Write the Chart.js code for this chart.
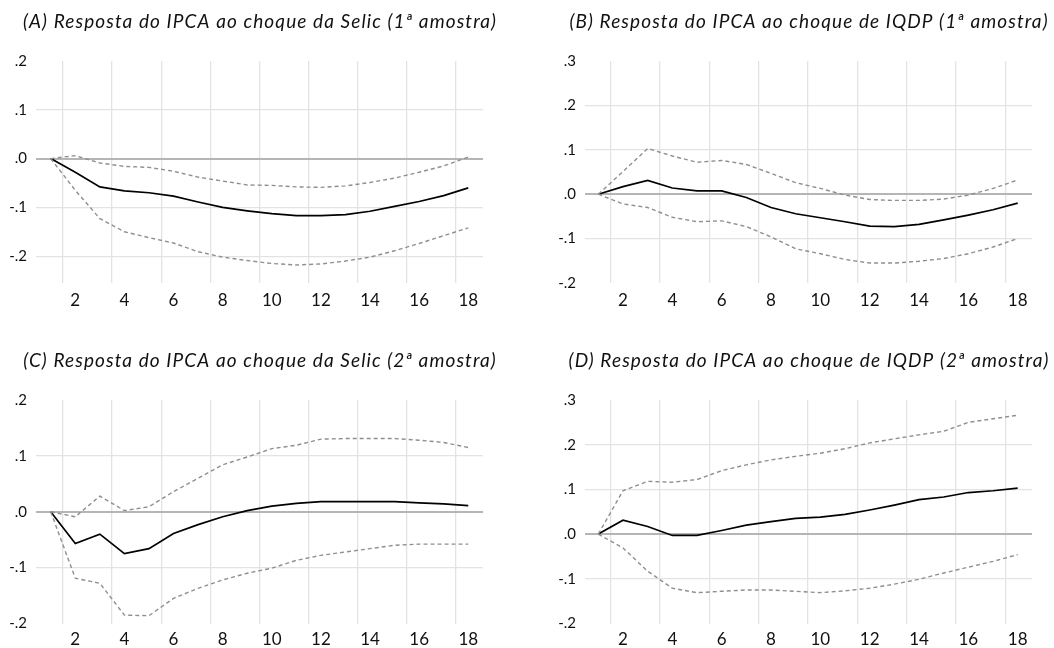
<!DOCTYPE html>
<html><head><meta charset="utf-8">
<script src="https://cdn.jsdelivr.net/npm/chart.js@4/dist/chart.umd.min.js"></script>
<style>
html,body{margin:0;padding:0;background:#fff;}
#wrap{position:relative;width:1054px;height:648px;overflow:hidden;}
.p{position:absolute;width:527px;height:324px;}
canvas{display:block;}
</style></head><body>
<div id="wrap">
<div class="p" style="left:0;top:0"><canvas id="cA" width="527" height="324"></canvas></div>
<div class="p" style="left:527px;top:0"><canvas id="cB" width="527" height="324"></canvas></div>
<div class="p" style="left:0;top:324px"><canvas id="cC" width="527" height="324"></canvas></div>
<div class="p" style="left:527px;top:324px"><canvas id="cD" width="527" height="324"></canvas></div>
</div>
<script>
const periods = [1,2,3,4,5,6,7,8,9,10,11,12,13,14,15,16,17,18];

const titleA = "(A) Resposta do IPCA ao choque da Selic (1ª amostra)";
const titleB = "(B) Resposta do IPCA ao choque de IQDP (1ª amostra)";
const titleC = "(C) Resposta do IPCA ao choque da Selic (2ª amostra)";
const titleD = "(D) Resposta do IPCA ao choque de IQDP (2ª amostra)";

const yTicksA = [-0.2,-0.1,0,0.1,0.2];
const yTicksB = [-0.2,-0.1,0,0.1,0.2,0.3];
const yTicksC = [-0.2,-0.1,0,0.1,0.2];
const yTicksD = [-0.2,-0.1,0,0.1,0.2,0.3];

const aResp  = [0,-0.028,-0.058,-0.066,-0.070,-0.077,-0.089,-0.100,-0.107,-0.113,-0.117,-0.117,-0.115,-0.108,-0.098,-0.088,-0.076,-0.060];
const aUpper = [0,0.006,-0.009,-0.016,-0.018,-0.026,-0.038,-0.046,-0.054,-0.055,-0.058,-0.059,-0.056,-0.049,-0.040,-0.028,-0.015,0.003];
const aLower = [0,-0.065,-0.123,-0.150,-0.162,-0.173,-0.191,-0.202,-0.209,-0.215,-0.218,-0.216,-0.210,-0.202,-0.189,-0.174,-0.158,-0.142];

const bResp  = [0,0.017,0.031,0.014,0.0075,0.0075,-0.0075,-0.030,-0.044,-0.053,-0.062,-0.072,-0.073,-0.068,-0.058,-0.047,-0.035,-0.020];
const bUpper = [0,0.051,0.103,0.086,0.072,0.076,0.067,0.047,0.026,0.013,-0.002,-0.012,-0.014,-0.014,-0.011,-0.002,0.013,0.032];
const bLower = [0,-0.022,-0.030,-0.052,-0.062,-0.060,-0.073,-0.096,-0.123,-0.134,-0.147,-0.155,-0.155,-0.151,-0.145,-0.134,-0.119,-0.100];

const cResp  = [0,-0.057,-0.040,-0.075,-0.066,-0.039,-0.023,-0.009,0.002,0.010,0.015,0.018,0.018,0.018,0.018,0.016,0.014,0.011];
const cUpper = [0,-0.009,0.028,0.002,0.009,0.036,0.060,0.084,0.098,0.113,0.119,0.130,0.131,0.131,0.131,0.128,0.124,0.115];
const cLower = [0,-0.119,-0.128,-0.185,-0.186,-0.155,-0.137,-0.122,-0.110,-0.101,-0.087,-0.078,-0.072,-0.066,-0.060,-0.058,-0.058,-0.058];

const dResp  = [0,0.031,0.017,-0.003,-0.003,0.008,0.020,0.028,0.035,0.038,0.044,0.054,0.065,0.077,0.083,0.093,0.097,0.103];
const dUpper = [0,0.097,0.118,0.116,0.122,0.142,0.155,0.166,0.174,0.181,0.191,0.204,0.213,0.222,0.230,0.250,0.258,0.266];
const dLower = [0,-0.031,-0.083,-0.121,-0.131,-0.128,-0.125,-0.125,-0.128,-0.131,-0.127,-0.121,-0.112,-0.101,-0.087,-0.074,-0.061,-0.046];

const FONT = "Lato, 'Open Sans', sans-serif";

const panelTitle = {
  id:'panelTitle',
  afterDraw(chart, args, opts){
    const ctx = chart.ctx, a = chart.chartArea;
    ctx.save();
    ctx.font = 'italic 19px ' + FONT;
    ctx.fillStyle = '#111';
    ctx.textAlign = 'center';
    ctx.textBaseline = 'middle';
    if ('letterSpacing' in ctx) ctx.letterSpacing = opts.spacing + 'px';
    ctx.fillText(opts.text, (a.left + a.right) / 2 + opts.spacing / 2, opts.y);
    ctx.restore();
  }
};

function pts(arr){ return periods.map((p,i)=>({x:p, y:arr[i]})); }

function makeChart(id, title, resp, upper, lower, yTicks, L){
  const yMin = L.yMin, yMax = L.yMax;
  const dashed = {borderColor:'#8f8f8f', borderWidth:1.4, borderDash:[4,3], pointRadius:0, fill:false, tension:0};
  return new Chart(document.getElementById(id), {
    type:'line',
    plugins:[panelTitle],
    data:{datasets:[
      Object.assign({label:'upper', data:pts(upper)}, dashed),
      Object.assign({label:'lower', data:pts(lower)}, dashed),
      {label:'resp', data:pts(resp), borderColor:'#000', borderWidth:1.7, pointRadius:0, fill:false, tension:0}
    ]},
    options:{
      responsive:false, animation:false, devicePixelRatio:1,
      layout:{padding:{left:0, right:L.padRight, top:L.top, bottom:0}},
      plugins:{
        legend:{display:false}, tooltip:{enabled:false}, title:{display:false},
        panelTitle:{text:title, y:L.titleY, spacing:1.1}
      },
      scales:{
        x:{type:'linear', min:L.xMin, max:L.xMax,
          afterBuildTicks: s => { s.ticks = periods.map(v=>({value:v})); },
          afterFit: s => { s.height = L.xHeight; },
          border:{display:false},
          grid:{offset:true, drawTicks:false, lineWidth:1.3,
            color: c => (c.index !== undefined && c.index % 2 === 1) ? '#e3e3e3' : 'rgba(0,0,0,0)'},
          ticks:{autoSkip:false, maxRotation:0, padding:L.xPad, color:'#111',
            font:{family:FONT, size:17},
            callback: v => (v % 2 === 0 ? String(v) : '')}
        },
        y:{type:'linear', min:yMin, max:yMax,
          afterBuildTicks: s => { s.ticks = yTicks.map(v=>({value:v})); },
          afterFit: s => { s.width = L.yWidth; },
          border:{display:false},
          grid:{drawTicks:false,
            color: c => {
              if (!c.tick) return 'rgba(0,0,0,0)';
              const v = c.tick.value;
              if (Math.abs(v) < 1e-9) return '#b5b5b5';
              if (Math.abs(v-yMax) < 1e-9 || Math.abs(v-yMin) < 1e-9) return 'rgba(0,0,0,0)';
              return '#e3e3e3';
            },
            lineWidth: c => (c.tick && Math.abs(c.tick.value) < 1e-9) ? 2 : 1.3
          },
          ticks:{padding:9, color:'#111', font:{family:FONT, size:15},
            callback: v => Number(v).toFixed(1).replace('0.', '.')}
        }
      }
    }
  });
}

makeChart('cA', titleA, aResp, aUpper, aLower, yTicksA,
  {yMin:-0.255, yMax:0.2, xMin:0.4, xMax:18.6, yWidth:36, padRight:44, top:61, titleY:22, xHeight:41, xPad:7});
makeChart('cB', titleB, bResp, bUpper, bLower, yTicksB,
  {yMin:-0.2, yMax:0.3, xMin:0.46, xMax:18.58, yWidth:58, padRight:22, top:61, titleY:22, xHeight:41, xPad:7});
makeChart('cC', titleC, cResp, cUpper, cLower, yTicksC,
  {yMin:-0.2, yMax:0.2, xMin:0.4, xMax:18.6, yWidth:36, padRight:44, top:76, titleY:37, xHeight:24.5, xPad:6});
makeChart('cD', titleD, dResp, dUpper, dLower, yTicksD,
  {yMin:-0.2, yMax:0.3, xMin:0.46, xMax:18.58, yWidth:58, padRight:22, top:76, titleY:37, xHeight:24.5, xPad:6});
</script>
</body></html>
